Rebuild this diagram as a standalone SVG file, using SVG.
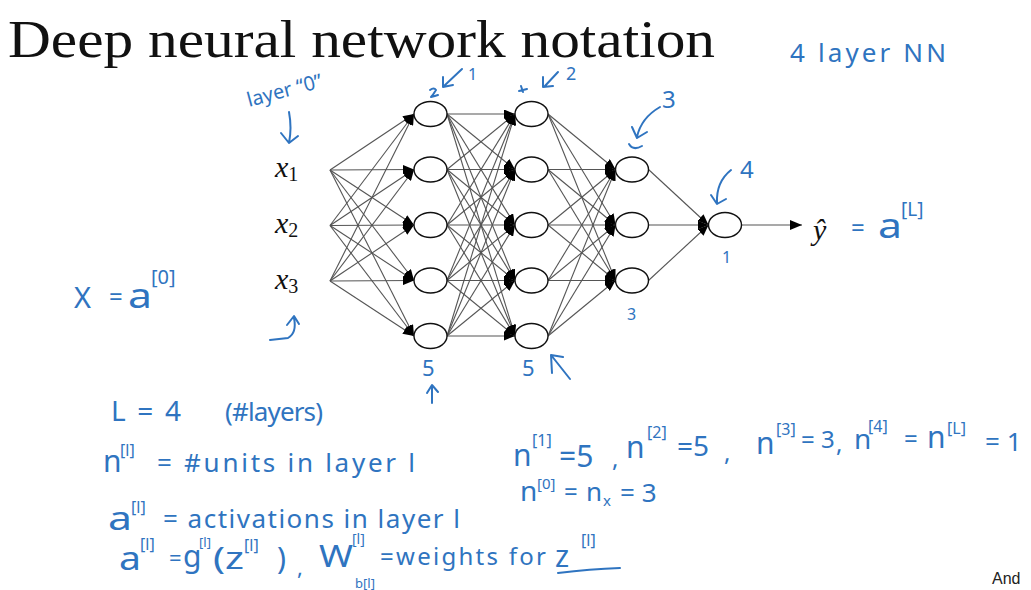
<svg xmlns="http://www.w3.org/2000/svg" width="1031" height="590" viewBox="0 0 1031 590">
<style>
.bg{fill:#fff}
.title{font-family:"Liberation Serif","Times New Roman",serif;font-size:52px;fill:#111}
.math{font-family:"Liberation Serif","Times New Roman",serif;fill:#111}
.e{stroke:#555;stroke-width:1.1;fill:none;marker-end:url(#ah)}
.out{stroke:#555;stroke-width:1.1;fill:none;marker-end:url(#ah2)}
.node{fill:#fff;stroke:#111;stroke-width:1.4}
.hw{font-family:"Noto Sans","DejaVu Sans",sans-serif;fill:#2f74c0}
.hs{stroke:#2f74c0;stroke-width:2;fill:none;stroke-linecap:round;stroke-linejoin:round}
.cr{font-family:"Liberation Sans",Arial,sans-serif;font-size:16px;fill:#222}
</style>
<defs>
<marker id="ah" viewBox="0 0 11 9" refX="11" refY="4.5" markerWidth="11" markerHeight="9" markerUnits="userSpaceOnUse" orient="auto"><path d="M0,0 L11,4.5 L0,9 z" fill="#000"/></marker>
<marker id="ah2" viewBox="0 0 12 10" refX="12" refY="5" markerWidth="12" markerHeight="10" markerUnits="userSpaceOnUse" orient="auto"><path d="M0,0 L12,5 L0,10 z" fill="#000"/></marker>
</defs>
<rect class="bg" x="0" y="0" width="1031" height="590"/>
<text class="title" x="8" y="57" textLength="707" lengthAdjust="spacingAndGlyphs">Deep neural network notation</text>

<g id="connectors">
<line class="e" x1="330" y1="170" x2="414" y2="114"/>
<line class="e" x1="330" y1="170" x2="414" y2="169.5"/>
<line class="e" x1="330" y1="170" x2="414" y2="225"/>
<line class="e" x1="330" y1="170" x2="414" y2="280.5"/>
<line class="e" x1="330" y1="170" x2="414" y2="336"/>
<line class="e" x1="330" y1="225.5" x2="414" y2="114"/>
<line class="e" x1="330" y1="225.5" x2="414" y2="169.5"/>
<line class="e" x1="330" y1="225.5" x2="414" y2="225"/>
<line class="e" x1="330" y1="225.5" x2="414" y2="280.5"/>
<line class="e" x1="330" y1="225.5" x2="414" y2="336"/>
<line class="e" x1="330" y1="281" x2="414" y2="114"/>
<line class="e" x1="330" y1="281" x2="414" y2="169.5"/>
<line class="e" x1="330" y1="281" x2="414" y2="225"/>
<line class="e" x1="330" y1="281" x2="414" y2="280.5"/>
<line class="e" x1="330" y1="281" x2="414" y2="336"/>

<line class="e" x1="447" y1="114" x2="515" y2="114"/>
<line class="e" x1="447" y1="114" x2="515" y2="169.5"/>
<line class="e" x1="447" y1="114" x2="515" y2="225"/>
<line class="e" x1="447" y1="114" x2="515" y2="280.5"/>
<line class="e" x1="447" y1="114" x2="515" y2="336"/>
<line class="e" x1="447" y1="169.5" x2="515" y2="114"/>
<line class="e" x1="447" y1="169.5" x2="515" y2="169.5"/>
<line class="e" x1="447" y1="169.5" x2="515" y2="225"/>
<line class="e" x1="447" y1="169.5" x2="515" y2="280.5"/>
<line class="e" x1="447" y1="169.5" x2="515" y2="336"/>
<line class="e" x1="447" y1="225" x2="515" y2="114"/>
<line class="e" x1="447" y1="225" x2="515" y2="169.5"/>
<line class="e" x1="447" y1="225" x2="515" y2="225"/>
<line class="e" x1="447" y1="225" x2="515" y2="280.5"/>
<line class="e" x1="447" y1="225" x2="515" y2="336"/>
<line class="e" x1="447" y1="280.5" x2="515" y2="114"/>
<line class="e" x1="447" y1="280.5" x2="515" y2="169.5"/>
<line class="e" x1="447" y1="280.5" x2="515" y2="225"/>
<line class="e" x1="447" y1="280.5" x2="515" y2="280.5"/>
<line class="e" x1="447" y1="280.5" x2="515" y2="336"/>
<line class="e" x1="447" y1="336" x2="515" y2="114"/>
<line class="e" x1="447" y1="336" x2="515" y2="169.5"/>
<line class="e" x1="447" y1="336" x2="515" y2="225"/>
<line class="e" x1="447" y1="336" x2="515" y2="280.5"/>
<line class="e" x1="447" y1="336" x2="515" y2="336"/>

<line class="e" x1="548" y1="114" x2="615.5" y2="169.5"/>
<line class="e" x1="548" y1="114" x2="615.5" y2="225"/>
<line class="e" x1="548" y1="114" x2="615.5" y2="280.5"/>
<line class="e" x1="548" y1="169.5" x2="615.5" y2="169.5"/>
<line class="e" x1="548" y1="169.5" x2="615.5" y2="225"/>
<line class="e" x1="548" y1="169.5" x2="615.5" y2="280.5"/>
<line class="e" x1="548" y1="225" x2="615.5" y2="169.5"/>
<line class="e" x1="548" y1="225" x2="615.5" y2="225"/>
<line class="e" x1="548" y1="225" x2="615.5" y2="280.5"/>
<line class="e" x1="548" y1="280.5" x2="615.5" y2="169.5"/>
<line class="e" x1="548" y1="280.5" x2="615.5" y2="225"/>
<line class="e" x1="548" y1="280.5" x2="615.5" y2="280.5"/>
<line class="e" x1="548" y1="336" x2="615.5" y2="169.5"/>
<line class="e" x1="548" y1="336" x2="615.5" y2="225"/>
<line class="e" x1="548" y1="336" x2="615.5" y2="280.5"/>

<line class="e" x1="648.5" y1="169.5" x2="708.5" y2="225"/>
<line class="e" x1="648.5" y1="225" x2="708.5" y2="225"/>
<line class="e" x1="648.5" y1="280.5" x2="708.5" y2="225"/>

<line class="out" x1="741.5" y1="225" x2="802" y2="225"/>
</g>

<g id="x1"><text class="math" x="275" y="177"><tspan font-style="italic" font-size="30">x</tspan><tspan font-size="20" dy="4">1</tspan></text></g>
<g id="x2"><text class="math" x="275" y="233"><tspan font-style="italic" font-size="30">x</tspan><tspan font-size="20" dy="4">2</tspan></text></g>
<g id="x3"><text class="math" x="275" y="289"><tspan font-style="italic" font-size="30">x</tspan><tspan font-size="20" dy="4">3</tspan></text></g>

<g id="l1n1"><ellipse class="node" cx="430.5" cy="114" rx="16.5" ry="12.5"/></g>
<g id="l1n2"><ellipse class="node" cx="430.5" cy="169.5" rx="16.5" ry="12.5"/></g>
<g id="l1n3"><ellipse class="node" cx="430.5" cy="225" rx="16.5" ry="12.5"/></g>
<g id="l1n4"><ellipse class="node" cx="430.5" cy="280.5" rx="16.5" ry="12.5"/></g>
<g id="l1n5"><ellipse class="node" cx="430.5" cy="336" rx="16.5" ry="12.5"/></g>
<g id="l2n1"><ellipse class="node" cx="531.5" cy="114" rx="16.5" ry="12.5"/></g>
<g id="l2n2"><ellipse class="node" cx="531.5" cy="169.5" rx="16.5" ry="12.5"/></g>
<g id="l2n3"><ellipse class="node" cx="531.5" cy="225" rx="16.5" ry="12.5"/></g>
<g id="l2n4"><ellipse class="node" cx="531.5" cy="280.5" rx="16.5" ry="12.5"/></g>
<g id="l2n5"><ellipse class="node" cx="531.5" cy="336" rx="16.5" ry="12.5"/></g>
<g id="l3n1"><ellipse class="node" cx="632" cy="169.5" rx="16.5" ry="12.5"/></g>
<g id="l3n2"><ellipse class="node" cx="632" cy="225" rx="16.5" ry="12.5"/></g>
<g id="l3n3"><ellipse class="node" cx="632" cy="280.5" rx="16.5" ry="12.5"/></g>
<g id="l4n1"><ellipse class="node" cx="725" cy="225" rx="16.5" ry="12.5"/></g>
<g id="yhat"><text class="math" x="813" y="240" font-size="30" font-style="italic">ŷ</text></g>

<g id="annotations">
<text class="hw" x="790" y="62" font-size="26" textLength="156">4 layer NN</text>
<text class="hw" font-size="20" transform="translate(249,107) rotate(-15)">layer “0”</text>
<path class="hs" d="M289,112 Q292,128 289,143 M281,133 L289,143 L298,136"/>
<path class="hs" d="M430,90 Q434,87 436,90 Q433,95 431,97 Q435,96 438,95"/>
<path class="hs" d="M462,69 L444,86 M443,77 L443,87 L453,85"/>
<text class="hw" x="468" y="80" font-size="16">1</text>
<path class="hs" d="M521,86 L523,92 M519,91 L527,89"/>
<path class="hs" d="M558,72 L544,87 M543,77 L543,87 L553,86"/>
<text class="hw" x="566" y="80" font-size="18">2</text>
<path class="hs" d="M660,107 Q641,118 637,137 M632,127 L637,138 L647,132"/>
<path class="hs" d="M629,144 Q633,151 642,146"/>
<text class="hw" x="662" y="108" font-size="24">3</text>
<path class="hs" d="M731,170 Q716,182 717,203 M711,195 L717,204 L726,199"/>
<text class="hw" x="740" y="178" font-size="24">4</text>
<text class="hw" x="722" y="263" font-size="16">1</text>
<text class="hw" x="627" y="320" font-size="16">3</text>
<text class="hw" x="422" y="376" font-size="22">5</text>
<path class="hs" d="M432,403 L432,386 M427,393 L432,385 L438,392"/>
<text class="hw" x="522" y="376" font-size="22">5</text>
<path class="hs" d="M570,379 L551,355 L552,373 M551,355 L563,357"/>

<text class="hw" x="851" y="236" font-size="24">=</text>
<text class="hw" x="878" y="238" font-size="34" textLength="24" lengthAdjust="spacingAndGlyphs">a</text>
<text class="hw" x="901" y="216" font-size="19">[L]</text>

<text class="hw" x="74" y="308" font-size="29">X</text>
<text class="hw" x="109" y="305" font-size="24">=</text>
<text class="hw" x="128" y="308" font-size="34" textLength="24" lengthAdjust="spacingAndGlyphs">a</text>
<text class="hw" x="151" y="284" font-size="20">[0]</text>
<path class="hs" d="M270,340 L288,338 Q297,333 294,318 M287,325 L294,316 L299,324"/>

<text class="hw" x="111" y="421" font-size="28" textLength="70">L = 4</text>
<text class="hw" x="225" y="421" font-size="26" textLength="98">(#layers)</text>

<text class="hw" x="103" y="472" font-size="30">n</text>
<text class="hw" x="120" y="456" font-size="16">[l]</text>
<text class="hw" x="157" y="472" font-size="26" textLength="258">= #units  in  layer l</text>

<text class="hw" x="108" y="530" font-size="32" textLength="24" lengthAdjust="spacingAndGlyphs">a</text>
<text class="hw" x="131" y="513" font-size="16">[l]</text>
<text class="hw" x="163" y="528" font-size="26" textLength="297">= activations  in  layer l</text>

<text class="hw" x="119" y="570" font-size="32" textLength="22" lengthAdjust="spacingAndGlyphs">a</text>
<text class="hw" x="140" y="550" font-size="16">[l]</text>
<text class="hw" x="169" y="566" font-size="22">=</text>
<text class="hw" x="183" y="567" font-size="30">g</text>
<text class="hw" x="199" y="547" font-size="13">[l]</text>
<text class="hw" x="213" y="569" font-size="30" textLength="31" lengthAdjust="spacingAndGlyphs">(z</text>
<text class="hw" x="244" y="551" font-size="16">[l]</text>
<text class="hw" x="277" y="569" font-size="30">)</text>
<text class="hw" x="297" y="575" font-size="22">,</text>
<text class="hw" x="319" y="567" font-size="30" textLength="34" lengthAdjust="spacingAndGlyphs">W</text>
<text class="hw" x="352" y="544" font-size="14">[l]</text>
<text class="hw" x="355" y="588" font-size="13">b[l]</text>
<text class="hw" x="380" y="565" font-size="24" textLength="166">=weights  for</text>
<text class="hw" x="555" y="567" font-size="30">z</text>
<text class="hw" x="581" y="546" font-size="16">[l]</text>
<path class="hs" d="M558,573 Q590,569 620,568"/>

<text class="hw" x="513" y="466" font-size="30">n</text>
<text class="hw" x="532" y="446" font-size="16">[1]</text>
<text class="hw" x="559" y="467" font-size="30">=5</text>
<text class="hw" x="612" y="467" font-size="24">,</text>
<text class="hw" x="626" y="458" font-size="30">n</text>
<text class="hw" x="647" y="438" font-size="16">[2]</text>
<text class="hw" x="677" y="456" font-size="28">=5</text>
<text class="hw" x="724" y="461" font-size="24">,</text>
<text class="hw" x="756" y="454" font-size="30">n</text>
<text class="hw" x="776" y="435" font-size="16">[3]</text>
<text class="hw" x="801" y="448" font-size="24">= 3</text>
<text class="hw" x="836" y="452" font-size="24">,</text>
<text class="hw" x="854" y="449" font-size="28">n</text>
<text class="hw" x="868" y="432" font-size="16">[4]</text>
<text class="hw" x="904" y="447" font-size="24">=</text>
<text class="hw" x="927" y="448" font-size="30">n</text>
<text class="hw" x="947" y="434" font-size="16">[L]</text>
<text class="hw" x="985" y="451" font-size="26">= 1</text>

<text class="hw" x="520" y="501" font-size="28">n</text>
<text class="hw" x="537" y="489" font-size="15">[0]</text>
<text class="hw" x="564" y="500" font-size="24">=</text>
<text class="hw" x="586" y="501" font-size="26">n</text>
<text class="hw" x="603" y="506" font-size="15">x</text>
<text class="hw" x="620" y="502" font-size="26">= 3</text>
</g>
<text class="cr" x="992" y="584">And</text>
</svg>
